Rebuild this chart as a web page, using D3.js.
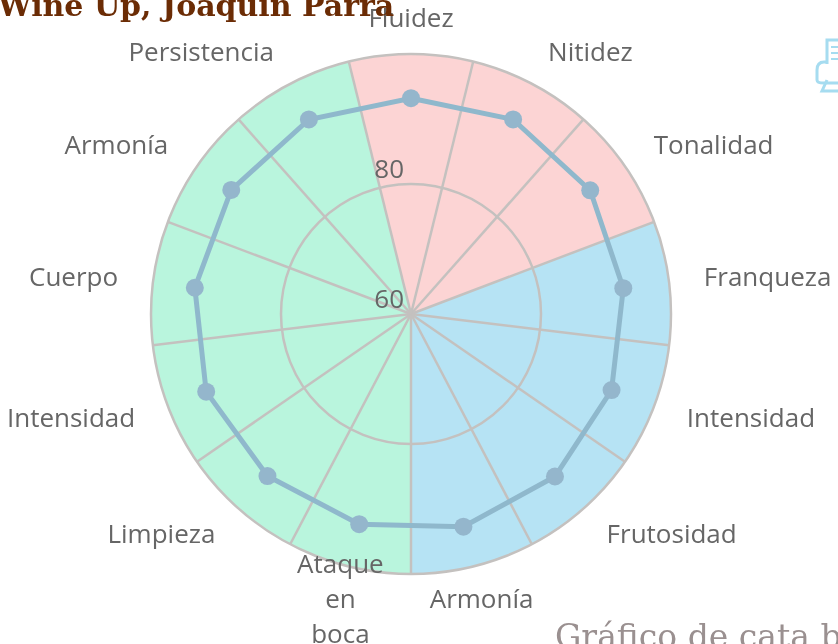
<!DOCTYPE html>
<meta charset="utf-8">
<style>
html, body { margin: 0; padding: 0; background: #fff; overflow: hidden; }
svg { filter: blur(0.4px); }
.label { font-family: "Open Sans", sans-serif; font-size: 26px; fill: #666; }
.tick { font-family: "Open Sans", sans-serif; font-size: 26px; fill: #666; }
</style>
<body>
<div id="chart"></div>
<script src="https://d3js.org/d3.v7.min.js"></script>
<script>

var categories = ['Fluidez', 'Nitidez', 'Tonalidad', 'Franqueza', 'Intensidad', 'Frutosidad', 'Armonía',
  'Ataque en boca', 'Limpieza', 'Intensidad', 'Cuerpo', 'Armonía', 'Persistencia'];
var values = [93.2, 93.8, 93.5, 92.9, 93, 93.4, 93.7, 93.3, 93.3, 93.7, 93.5, 93.6, 93.8];
var bandCounts = [3, 4, 6];
var bandColors = ['#fcd4d4', '#b6e3f4', '#b9f5dd'];
var ticks = [60, 80, 100];
var title = 'Wine Up, Joaquin Parra';
var caption = 'Gráfico de cata bodega';

var width = 838, height = 644;
var cx = 411, cy = 314;
var grey = '#c4c1bf';

var svg = d3.select('#chart').append('svg')
  .attr('width', width).attr('height', height)
  .style('display', 'block');

svg.append('text')
  .attr('x', 555).attr('y', 648)
  .style('font-family', '"DejaVu Serif", serif')
  .style('font-size', '33px')
  .style('fill', '#9a9090')
  .text(caption);

var r = d3.scaleLinear().domain([60, 100]).range([0, 260]);
var angle = d3.scaleLinear().domain([0, categories.length]).range([0, 2 * Math.PI]);
var labelRadius = 295;

var g = svg.append('g').attr('transform', 'translate(' + cx + ',' + cy + ')');

// coloured bands, each starts half a category before its first axis
var arc = d3.arc().innerRadius(0).outerRadius(r(100));
var start = 0;
bandCounts.forEach(function(n, i) {
  g.append('path')
    .attr('d', arc({startAngle: angle(start - 0.5), endAngle: angle(start + n - 0.5)}))
    .attr('fill', bandColors[i]);
  start += n;
});

// spokes between categories
categories.forEach(function(c, i) {
  var a = angle(i + 0.5);
  g.append('line')
    .attr('x2', r(100) * Math.sin(a))
    .attr('y2', -r(100) * Math.cos(a))
    .attr('stroke', grey).attr('stroke-width', 2.5);
});

// rings
ticks.slice(1).forEach(function(t) {
  g.append('circle')
    .attr('r', r(t))
    .attr('fill', 'none')
    .attr('stroke', grey).attr('stroke-width', 2.5);
});

// tick labels
ticks.slice(0, 2).forEach(function(t) {
  g.append('text')
    .attr('class', 'tick')
    .attr('x', -7)
    .attr('y', -r(t) - 6)
    .attr('text-anchor', 'end')
    .text(t);
});

// series
var line = d3.lineRadial()
  .angle(function(d, i) { return angle(i); })
  .radius(function(d) { return r(d); })
  .curve(d3.curveLinearClosed);

g.append('path')
  .attr('d', line(values))
  .attr('fill', 'none')
  .attr('stroke', '#8fb8cc').attr('stroke-width', 5);

g.selectAll('circle.dot').data(values).enter().append('circle')
  .attr('class', 'dot')
  .attr('cx', function(d, i) { return r(d) * Math.sin(angle(i)); })
  .attr('cy', function(d, i) { return -r(d) * Math.cos(angle(i)); })
  .attr('r', 9)
  .attr('fill', '#94b6cc');

// category labels, the ones near top and bottom are centred and wrap per word
categories.forEach(function(c, i) {
  var a = angle(i);
  var s = Math.sin(a);
  var x = labelRadius * s;
  var y = -labelRadius * Math.cos(a);
  var centred = Math.abs(s) < 0.3;
  var lines = centred ? c.split(' ') : [c];
  var lineHeight = 35;
  var t = g.append('text')
    .attr('class', 'label')
    .attr('text-anchor', centred ? 'middle' : (s > 0 ? 'start' : 'end'));
  lines.forEach(function(w, j) {
    t.append('tspan')
      .attr('x', x)
      .attr('y', y + 8 + (j - (lines.length - 1) / 2) * lineHeight)
      .text(w);
  });
});

// page heading sits above the chart
svg.append('text')
  .attr('x', -2).attr('y', 16)
  .style('font-family', '"DejaVu Serif", serif')
  .style('font-weight', 700).style('font-size', '30px')
  .style('fill', '#6b2c05')
  .text(title);

// printer icon, top right
var icon = svg.append('g').attr('fill', 'none').attr('stroke', '#a6dcf0').attr('stroke-width', 3);
icon.append('path').attr('d', 'M827 64V40H838');
icon.append('path').attr('d', 'M827 62H824Q817 62 817 70V80Q817 83 824 83H838');
icon.append('path').attr('d', 'M827 80L822 91H838');
icon.append('path').attr('d', 'M831 47H838M831 53H838M831 59H838').attr('stroke-width', 2);

</script>
</body>
</html>
